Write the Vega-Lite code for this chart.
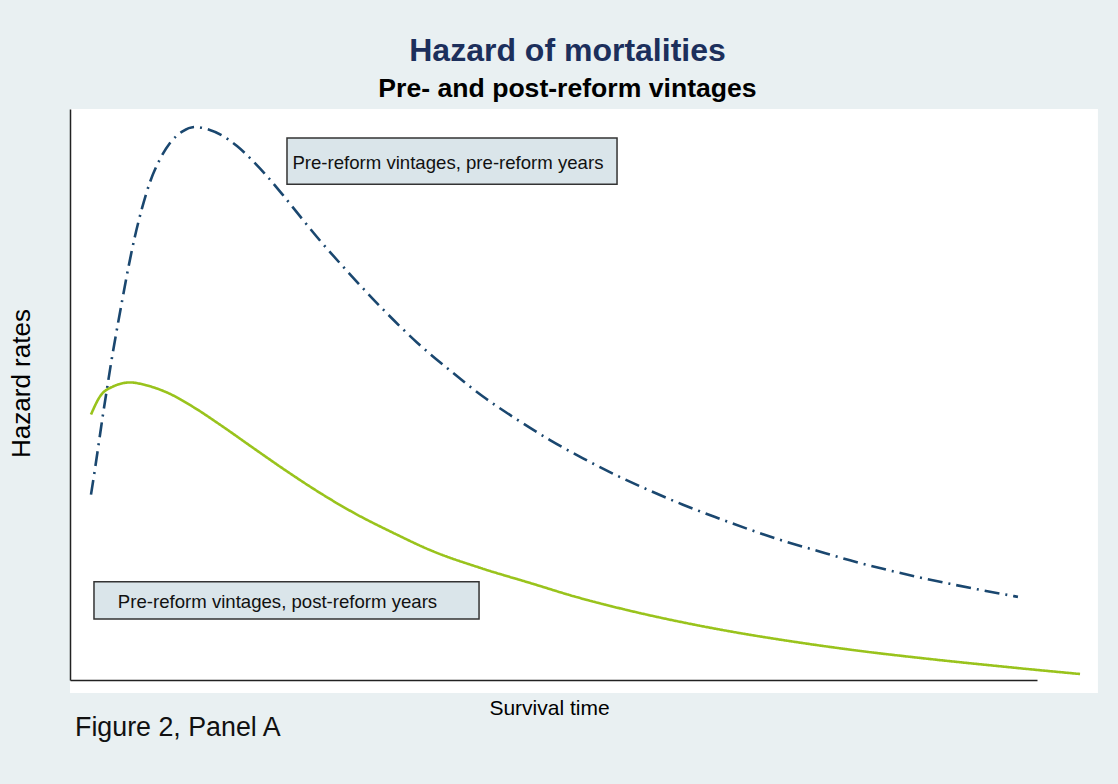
{
  "$schema": "https://vega.github.io/schema/vega-lite/v6.json",
  "width": 967,
  "height": 571,
  "autosize": {"type": "none"},
  "padding": {"left": 70, "top": 109, "right": 81, "bottom": 104},
  "background": "#e9f0f2",
  "config": {
    "font": "Liberation Sans",
    "view": {"fill": "white", "stroke": null}
  },
  "title": {
    "text": "Hazard of mortalities",
    "subtitle": "Pre- and post-reform vintages",
    "font": "Liberation Sans",
    "subtitleFont": "Liberation Sans",
    "fontSize": 32,
    "fontWeight": "bold",
    "color": "#1c2f5c",
    "subtitleFontSize": 26.6,
    "subtitleFontWeight": "bold",
    "subtitleColor": "#000000",
    "subtitlePadding": 8,
    "anchor": "middle",
    "dx": 14,
    "offset": 5
  },
  "datasets": {
    "curves": [
      {"series": "pre", "t": 2.17, "h": 32.46},
      {"series": "pre", "t": 2.59, "h": 37.02},
      {"series": "pre", "t": 3.0, "h": 41.75},
      {"series": "pre", "t": 3.41, "h": 46.49},
      {"series": "pre", "t": 3.83, "h": 51.05},
      {"series": "pre", "t": 4.24, "h": 55.44},
      {"series": "pre", "t": 4.76, "h": 60.53},
      {"series": "pre", "t": 5.38, "h": 66.32},
      {"series": "pre", "t": 6.0, "h": 71.93},
      {"series": "pre", "t": 6.72, "h": 77.72},
      {"series": "pre", "t": 7.45, "h": 82.63},
      {"series": "pre", "t": 8.27, "h": 87.19},
      {"series": "pre", "t": 9.31, "h": 91.23},
      {"series": "pre", "t": 10.34, "h": 94.04},
      {"series": "pre", "t": 11.69, "h": 96.14},
      {"series": "pre", "t": 12.93, "h": 96.84},
      {"series": "pre", "t": 14.17, "h": 96.49},
      {"series": "pre", "t": 15.82, "h": 95.26},
      {"series": "pre", "t": 17.27, "h": 93.51},
      {"series": "pre", "t": 18.92, "h": 90.88},
      {"series": "pre", "t": 20.37, "h": 88.25},
      {"series": "pre", "t": 22.03, "h": 84.91},
      {"series": "pre", "t": 23.78, "h": 81.23},
      {"series": "pre", "t": 25.65, "h": 77.37},
      {"series": "pre", "t": 28.96, "h": 71.05},
      {"series": "pre", "t": 32.37, "h": 64.91},
      {"series": "pre", "t": 35.88, "h": 59.12},
      {"series": "pre", "t": 39.3, "h": 54.21},
      {"series": "pre", "t": 42.71, "h": 49.65},
      {"series": "pre", "t": 46.23, "h": 45.61},
      {"series": "pre", "t": 49.64, "h": 42.02},
      {"series": "pre", "t": 53.05, "h": 38.82},
      {"series": "pre", "t": 56.57, "h": 35.79},
      {"series": "pre", "t": 59.98, "h": 33.16},
      {"series": "pre", "t": 63.39, "h": 30.7},
      {"series": "pre", "t": 66.91, "h": 28.42},
      {"series": "pre", "t": 70.32, "h": 26.32},
      {"series": "pre", "t": 73.73, "h": 24.39},
      {"series": "pre", "t": 77.25, "h": 22.63},
      {"series": "pre", "t": 80.66, "h": 20.96},
      {"series": "pre", "t": 84.07, "h": 19.47},
      {"series": "pre", "t": 87.59, "h": 18.07},
      {"series": "pre", "t": 91.0, "h": 16.84},
      {"series": "pre", "t": 94.42, "h": 15.7},
      {"series": "pre", "t": 98.03, "h": 14.56},
      {"series": "post", "t": 2.17, "h": 46.49},
      {"series": "post", "t": 3.1, "h": 49.65},
      {"series": "post", "t": 4.45, "h": 51.4},
      {"series": "post", "t": 6.2, "h": 52.11},
      {"series": "post", "t": 7.96, "h": 51.58},
      {"series": "post", "t": 10.03, "h": 50.35},
      {"series": "post", "t": 12.72, "h": 47.84},
      {"series": "post", "t": 15.51, "h": 44.72},
      {"series": "post", "t": 18.92, "h": 40.67},
      {"series": "post", "t": 22.44, "h": 36.54},
      {"series": "post", "t": 25.85, "h": 32.77},
      {"series": "post", "t": 29.27, "h": 29.35},
      {"series": "post", "t": 33.4, "h": 25.79},
      {"series": "post", "t": 37.54, "h": 22.54},
      {"series": "post", "t": 42.4, "h": 19.65},
      {"series": "post", "t": 47.88, "h": 16.84},
      {"series": "post", "t": 52.12, "h": 14.65},
      {"series": "post", "t": 56.46, "h": 12.72},
      {"series": "post", "t": 60.7, "h": 11.05},
      {"series": "post", "t": 65.05, "h": 9.53},
      {"series": "post", "t": 69.29, "h": 8.21},
      {"series": "post", "t": 73.63, "h": 7.02},
      {"series": "post", "t": 77.87, "h": 5.96},
      {"series": "post", "t": 82.21, "h": 4.98},
      {"series": "post", "t": 86.45, "h": 4.14},
      {"series": "post", "t": 90.8, "h": 3.33},
      {"series": "post", "t": 95.04, "h": 2.6},
      {"series": "post", "t": 99.28, "h": 1.88},
      {"series": "post", "t": 104.45, "h": 1.05}
    ],
    "boxes": [
      {"label": "Pre-reform vintages, pre-reform years", "x1": 22.44, "x2": 56.57, "y1": 94.91, "y2": 86.84, "tx": 23.0, "ty": 90.5},
      {"label": "Pre-reform vintages, post-reform years", "x1": 2.48, "x2": 42.3, "y1": 17.19, "y2": 10.7, "tx": 4.95, "ty": 13.7}
    ],
    "caption": [
      {"label": "Figure 2, Panel A", "x": 0.52, "y": -9.82}
    ],
    "panel": [
      {"x1": 0, "x2": 106.3, "y1": -2.28, "y2": 100}
    ]
  },
  "layer": [
    {
      "data": {"name": "panel"},
      "mark": {"type": "rect", "fill": "white"},
      "encoding": {
        "x": {"field": "x1", "type": "quantitative", "scale": {"domain": [0, 100], "nice": false, "zero": false},
          "axis": {"title": "Survival time", "labels": false, "ticks": false, "grid": false, "domainColor": "#222222", "domainWidth": 1.5, "titleFontSize": 21, "titleFontWeight": "normal", "titleColor": "#000000", "titlePadding": 17, "titleX": 479, "zindex": 1}},
        "x2": {"field": "x2"},
        "y": {"field": "y1", "type": "quantitative", "scale": {"domain": [0, 100], "nice": false, "zero": false},
          "axis": {"title": "Hazard rates", "labels": false, "ticks": false, "grid": false, "domainColor": "#222222", "domainWidth": 1.5, "titleFontSize": 26, "titleFontWeight": "normal", "titleColor": "#000000", "titlePadding": 36, "titleY": 274, "zindex": 1}},
        "y2": {"field": "y2"}
      }
    },
    {
      "data": {"name": "curves"},
      "mark": {"type": "line", "strokeWidth": 2.6, "interpolate": "monotone"},
      "encoding": {
        "x": {"field": "t", "type": "quantitative"},
        "y": {"field": "h", "type": "quantitative"},
        "color": {"field": "series", "type": "nominal", "scale": {"domain": ["pre", "post"], "range": ["#1a476f", "#99c31c"]}, "legend": null},
        "strokeDash": {"field": "series", "type": "nominal", "scale": {"domain": ["pre", "post"], "range": [[15, 6, 2, 6], [1, 0]]}, "legend": null}
      }
    },
    {
      "data": {"name": "boxes"},
      "mark": {"type": "rect", "fill": "#dae5ea", "stroke": "#333333", "strokeWidth": 1.5},
      "encoding": {
        "x": {"field": "x1", "type": "quantitative"},
        "x2": {"field": "x2"},
        "y": {"field": "y1", "type": "quantitative"},
        "y2": {"field": "y2"}
      }
    },
    {
      "data": {"name": "boxes"},
      "mark": {"type": "text", "align": "left", "baseline": "middle", "fontSize": 18.6, "color": "#111111"},
      "encoding": {
        "x": {"field": "tx", "type": "quantitative"},
        "y": {"field": "ty", "type": "quantitative"},
        "text": {"field": "label"}
      }
    },
    {
      "data": {"name": "caption"},
      "mark": {"type": "text", "align": "left", "baseline": "alphabetic", "fontSize": 26.8, "color": "#111111"},
      "encoding": {
        "x": {"field": "x", "type": "quantitative"},
        "y": {"field": "y", "type": "quantitative"},
        "text": {"field": "label"}
      }
    }
  ]
}
